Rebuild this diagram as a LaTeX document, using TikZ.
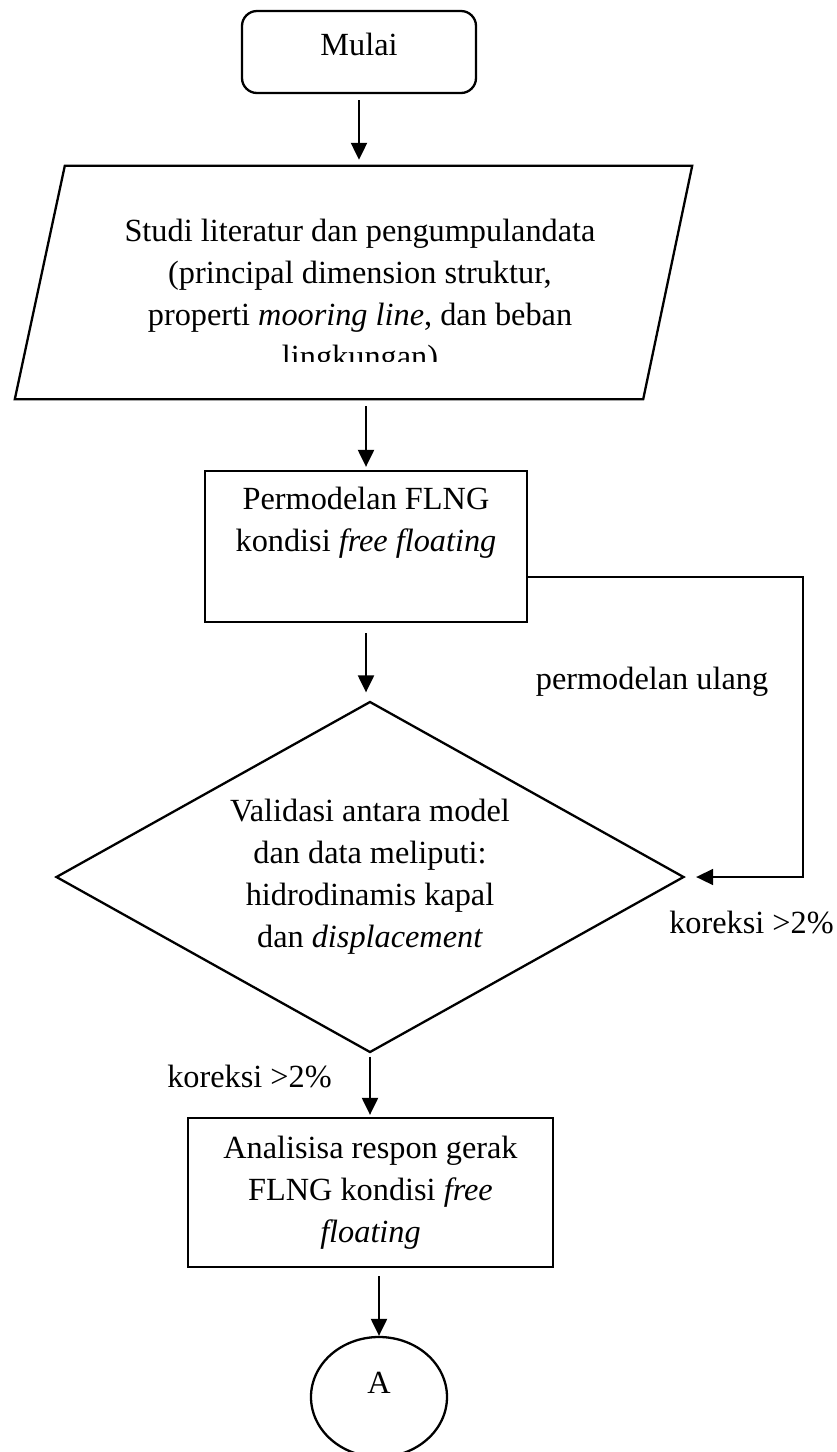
\documentclass[tikz,border=0pt]{standalone}
\usepackage{fontspec}
\setmainfont{Liberation Serif}
\usetikzlibrary{shapes.geometric, arrows.meta, calc}
\begin{document}
\begin{tikzpicture}[x=1pt,y=-1pt,
  txt/.style={font=\fontsize{32.3}{42}\selectfont, align=center, inner sep=0pt},
  shapeline/.style={draw, line width=2.3pt},
  rbox/.style={shapeline, rounded corners=15pt, inner sep=0pt},
  box/.style={shapeline, rectangle, inner sep=0pt},
  arr/.style={line width=2.2pt, -{Triangle[length=17pt,width=16pt]}},
  fb/.style={line width=1.7pt, -{Triangle[length=17pt,width=16pt]}}]
\useasboundingbox (0,0) rectangle (837,1452);
\clip (0,0) rectangle (837,1452);

% Start
\node[rbox, minimum width=234pt, minimum height=82pt] (mulai) at (359,52) {};
\node[txt, anchor=base] (mulaiT) at (359,55) {Mulai};

% Data input parallelogram
\node[inner sep=0pt, minimum width=677pt, minimum height=233pt] (studibox) at (353.5,282.5) {};
\draw[line width=2.3pt] ($(studibox.north west)+(50,0)$) -- (studibox.north east)
  -- ($(studibox.south east)+(-49,0)$) -- (studibox.south west) -- cycle;
\begin{scope}
\clip (0,0) rectangle (837,361);
\node[txt] (studiT) at (360,297) {Studi literatur dan pengumpulandata\\(principal dimension struktur,\\properti \textit{mooring line}, dan beban\\lingkungan)};
\end{scope}

% Modelling
\node[box, minimum width=322pt, minimum height=151pt] (perm) at (366,546.5) {};
\node[txt] (permT) at (366,523) {Permodelan FLNG\\kondisi \textit{free floating}};

% Validation decision
\node[diamond, shapeline, aspect=1.79, minimum width=628pt, minimum height=351pt, txt] (val) at (370,877)
  {Validasi antara model\\dan data meliputi:\\hidrodinamis kapal\\dan \textit{displacement}};

% Analysis
\node[box, txt, minimum width=365pt, minimum height=149pt] (ana) at (370.5,1192.5)
  {Analisisa respon gerak\\FLNG kondisi \textit{free}\\\textit{floating}};

% Connector
\node[ellipse, shapeline, minimum width=136pt, minimum height=120pt, inner sep=0pt] (circA) at (379,1397) {};
\node[txt, anchor=base] (circT) at (379,1393) {A};

% Labels
\node[txt, anchor=base] (lblulang) at (652,689) {permodelan ulang};
\node[txt, anchor=base] (lblk1) at (751.5,933) {koreksi >2\%};
\node[txt, anchor=base] (lblk2) at (249.5,1087) {koreksi >2\%};

% Arrows
\draw[arr, shorten <=6pt, shorten >=6pt] (mulai.south) -- (mulai.south |- studibox.north);
\draw[arr, shorten <=7pt, shorten >=3pt] (perm.north |- studibox.south) -- (perm.north);
\draw[arr, shorten <=10pt, shorten >=8pt] (perm.south) -- (perm.south |- val.north);
\draw[arr, shorten <=3pt, shorten >=2pt] (val.south) -- (val.south |- ana.north);
\draw[arr, shorten <=8pt] (ana.south -| circA.north) -- (circA.north);

% Feedback loop
\coordinate (fbturn) at (803,877);
\draw[fb, shorten >=11pt] ([yshift=-30.5pt]perm.east) -| (fbturn) -- (val.east);
\end{tikzpicture}
\end{document}
